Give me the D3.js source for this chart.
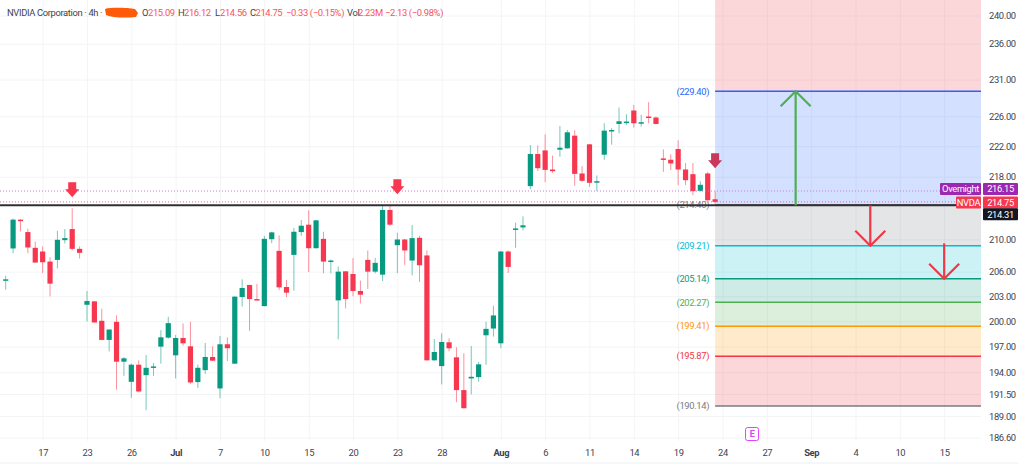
<!DOCTYPE html>
<html>
<head>
<meta charset="utf-8">
<script src="https://cdnjs.cloudflare.com/ajax/libs/d3/7.8.5/d3.min.js"></script>
<style>
	html, body { margin: 0; padding: 0; background: #fff; }
	svg { display: block; font-family: Roboto, "Liberation Sans", sans-serif; }
	svg text { letter-spacing: -0.35px; }
	.axis path, .axis line { display: none; }
	.grid path { display: none; }
	.grid line { stroke: #f3f4f6; stroke-width: 1; }
	.grid text { display: none; }
	.axis text { fill: #3f424d; font-size: 9.4px; font-family: Roboto, "Liberation Sans", sans-serif; }
</style>
</head>
<body>
<svg id="chart" width="1024" height="467"></svg>
<script>
'use strict';

// candles, 4h bars
const opens = [
	204.90, 208.87, 212.49, 210.92, 208.95, 208.49, 207.24, 207.45, 209.91, 211.30,
	208.82, 201.97, 202.38, 200.05, 197.78, 199.93, 195.23, 192.90, 194.88, 193.67,
	194.52, 196.99, 198.05, 195.97, 198.01, 197.03, 192.87, 194.25, 195.78, 192.14,
	197.27, 195.00, 202.90, 204.37, 202.66, 201.81, 210.03, 208.57, 204.12, 208.07,
	210.92, 211.85, 208.90, 210.07, 207.20, 202.50, 206.04, 205.71, 203.64, 207.45,
	206.00, 205.63, 213.72, 209.28, 209.99, 207.37, 210.20, 208.00, 195.39, 194.72,
	197.50, 195.74, 191.95, 193.29, 193.44, 198.33, 199.13, 197.38, 208.49, 211.30,
	211.51, 216.78, 220.97, 221.45, 218.94, 221.54, 221.72, 223.40, 218.42, 222.25,
	217.25, 220.88, 224.03, 224.97, 225.20, 226.78, 225.06, 225.97, 225.83, 220.39,
	220.22, 221.63, 218.94, 218.33, 216.17, 218.42, 215.09
];
const highs = [
	205.51, 212.61, 212.52, 211.34, 209.74, 209.12, 207.78, 211.09, 211.30, 213.93,
	209.12, 203.64, 202.42, 201.49, 199.05, 200.69, 195.78, 195.00, 195.39, 196.01,
	195.07, 198.93, 200.53, 198.37, 199.73, 199.93, 194.88, 197.42, 197.03, 198.25,
	198.09, 202.99, 205.06, 204.40, 204.49, 210.45, 210.96, 210.49, 204.98, 211.43,
	212.44, 213.67, 212.44, 210.96, 207.49, 206.62, 206.08, 207.66, 204.90, 208.62,
	207.70, 214.23, 214.23, 210.84, 210.07, 211.81, 210.45, 208.62, 197.89, 198.57,
	197.97, 196.91, 196.21, 197.07, 195.19, 199.93, 201.85, 208.53, 208.62, 212.11,
	212.91, 222.16, 222.11, 223.58, 220.75, 224.70, 224.16, 224.12, 219.38, 222.29,
	218.16, 225.06, 224.39, 227.18, 226.28, 227.54, 226.19, 227.91, 225.97, 221.58,
	220.92, 222.78, 219.78, 219.78, 217.42, 218.63, 216.12
];
const lows = [
	203.80, 208.28, 211.00, 208.28, 207.10, 205.84, 202.99, 206.41, 209.49, 208.62,
	207.62, 199.97, 199.83, 197.74, 196.44, 191.99, 193.59, 191.07, 191.68, 189.66,
	193.59, 195.00, 197.93, 193.29, 197.11, 192.67, 192.21, 193.82, 195.31, 191.03,
	195.31, 194.95, 201.77, 198.85, 202.50, 201.77, 209.53, 203.76, 202.90, 203.68,
	210.45, 205.96, 208.87, 205.79, 205.79, 197.85, 201.53, 202.99, 202.13, 203.88,
	205.79, 204.86, 211.72, 205.84, 206.83, 205.55, 204.74, 195.35, 195.35, 192.60,
	196.44, 190.57, 189.85, 191.45, 192.90, 194.88, 198.17, 196.80, 205.84, 208.95,
	211.13, 216.39, 218.76, 217.29, 218.50, 220.61, 221.67, 216.82, 217.34, 216.69,
	216.13, 220.22, 222.20, 223.71, 224.84, 224.48, 224.61, 225.06, 224.93, 218.63,
	218.85, 216.91, 216.91, 215.61, 216.09, 214.90, 214.56
];
const closes = [
	205.06, 212.49, 212.40, 208.99, 207.12, 207.16, 204.53, 209.95, 210.16, 208.82,
	208.32, 202.42, 199.85, 197.78, 199.01, 195.23, 195.62, 194.88, 191.79, 194.52,
	194.68, 198.09, 199.77, 198.01, 197.38, 192.83, 194.52, 195.78, 195.35, 197.27,
	196.80, 202.95, 204.00, 202.66, 202.54, 210.07, 210.88, 204.08, 203.43, 210.96,
	211.72, 208.90, 212.40, 207.24, 207.37, 206.00, 202.66, 203.64, 203.19, 206.00,
	207.08, 213.72, 211.85, 209.99, 208.62, 210.16, 206.79, 195.39, 196.36, 197.54,
	196.80, 191.95, 189.89, 193.48, 194.92, 199.09, 200.69, 208.49, 206.58, 211.38,
	211.77, 220.97, 219.11, 218.89, 218.72, 221.80, 223.85, 218.37, 217.47, 217.21,
	217.42, 224.07, 224.16, 225.33, 225.29, 225.06, 225.20, 225.83, 224.97, 220.22,
	219.73, 218.94, 217.55, 216.13, 216.95, 214.96, 214.75
];

// axes
const priceTicks = [240, 236, 231, 226, 222, 218, 210, 206, 203, 200, 197, 194, 191.5, 189, 186.6];
const timeTickBars = [5, 11, 17, 23, 29, 35, 41, 47, 53, 59, 67, 73, 79, 85, 91, 97, 103, 109, 115, 121, 127];
const timeTickLabels = ['17', '23', '26', 'Jul', '7', '10', '15', '20', '23', '28', 'Aug', '6', '11', '14', '19', '24', '27', 'Sep', '4', '10', '15'];
const boldLabels = ['Jul', 'Aug', 'Sep'];

// fib levels, top to bottom
const fibPrices = [229.40, 214.40, 209.21, 205.14, 202.27, 199.41, 195.87, 190.14];
const fibColors = ['#2962ff', '#787b86', '#00bcd4', '#089981', '#4caf50', '#ff9800', '#f23645', '#787b86'];
const fibFills = ['rgba(242,54,69,.2)', 'rgba(41,98,255,.2)', 'rgba(120,123,134,.2)', 'rgba(0,188,212,.2)',
	'rgba(8,153,129,.2)', 'rgba(76,175,80,.2)', 'rgba(255,152,0,.2)', 'rgba(242,54,69,.2)'];
const fibTop = 245;
const fibStartBar = 96;
const fibEndBar = 132;

// drawn on the chart
const supportPrice = 214.31;
const overnightPrice = 216.15;
const lastPrice = 214.75;
const blockArrowBars = [9, 53, 96];
const blockArrowPrices = [215.34, 215.73, 219.11];
const blockArrowColors = ['#f7374f', '#f7374f', '#c8385a'];
const lineArrows = [
	{ bar: 106.9, from: 214.31, to: 229.40, color: '#4caf50' },
	{ bar: 117, from: 214.31, to: 209.21, color: '#f23645' },
	{ bar: 127, from: 209.50, to: 205.14, color: '#f23645' }
];
const earningsBar = 101;

// header values
const legendText = ['NVIDIA Corporation · 4h ·'];
const legendKeys = ['O', 'H', 'L', 'C', 'Vol'];
const legendValues = ['215.09', '216.12', '214.56', '214.75', '2.23M'];
const legendKeyX = [142, 178, 215, 250, 347];
const legendValueX = [148, 184, 220, 255.5, 358];
const legendChanges = ['−0.33 (−0.15%)', '−2.13 (−0.98%)'];
const legendChangeX = [286, 385];

const paneRight = 981;
const paneBottom = 441;

const svg = d3.select('#chart');

const x = d3.scaleLinear().domain([0, 96]).range([5.7, 715.1]);
const y = d3.scaleLog().domain([240, 186.6]).range([15.5, 437.5]);

svg.append('defs').append('clipPath').attr('id', 'pane')
	.append('rect').attr('width', paneRight).attr('height', paneBottom);

/* grid */
svg.append('g').attr('class', 'grid')
	.attr('transform', `translate(${paneRight},0)`)
	.call(d3.axisLeft(y).tickValues(priceTicks).tickSize(paneRight).tickFormat(''));
svg.append('g').attr('class', 'grid')
	.attr('transform', `translate(0,${paneBottom})`)
	.call(d3.axisTop(x).tickValues(timeTickBars).tickSize(paneBottom).tickFormat(''));

const pane = svg.append('g').attr('clip-path', 'url(#pane)');

/* fib bands and levels */
const bandEdges = [fibTop].concat(fibPrices);
pane.append('g').selectAll('rect')
	.data(fibFills)
	.join('rect')
		.attr('x', x(fibStartBar))
		.attr('width', x(fibEndBar) - x(fibStartBar))
		.attr('y', (d, i) => y(bandEdges[i]))
		.attr('height', (d, i) => y(bandEdges[i + 1]) - y(bandEdges[i]))
		.attr('fill', d => d);

pane.append('g').selectAll('line')
	.data(fibPrices)
	.join('line')
		.attr('x1', x(fibStartBar))
		.attr('x2', x(fibEndBar))
		.attr('y1', d => y(d))
		.attr('y2', d => y(d))
		.attr('stroke', (d, i) => fibColors[i])
		.attr('stroke-width', 1.5);

pane.append('g').selectAll('text')
	.data(fibPrices)
	.join('text')
		.attr('x', x(fibStartBar) - 6)
		.attr('y', d => y(d))
		.attr('dy', '0.35em')
		.attr('text-anchor', 'end')
		.attr('font-size', '9.4px')
		.attr('fill', (d, i) => fibColors[i])
		.text(d => `(${d.toFixed(2)})`);

/* candles */
const candles = opens.map((o, i) => ({ i, o, h: highs[i], l: lows[i], c: closes[i] }));
const candleColor = d => d.c >= d.o ? '#089981' : '#f7374f';

pane.append('g').selectAll('line')
	.data(candles)
	.join('line')
		.attr('x1', d => x(d.i))
		.attr('x2', d => x(d.i))
		.attr('y1', d => y(d.h))
		.attr('y2', d => y(d.l))
		.attr('stroke', candleColor)
		.attr('stroke-opacity', 0.55)
		.attr('stroke-width', 1);

pane.append('g').selectAll('rect')
	.data(candles)
	.join('rect')
		.attr('x', d => x(d.i) - 2.6)
		.attr('width', 5.2)
		.attr('y', d => y(Math.max(d.o, d.c)))
		.attr('height', d => Math.max(1.5, Math.abs(y(d.o) - y(d.c))))
		.attr('fill', candleColor);

/* price lines */
pane.append('line')
	.attr('x1', 0).attr('x2', paneRight)
	.attr('y1', y(overnightPrice)).attr('y2', y(overnightPrice))
	.attr('stroke', '#c77dd6').attr('stroke-dasharray', '1,2');
pane.append('line')
	.attr('x1', 0).attr('x2', paneRight)
	.attr('y1', y(lastPrice)).attr('y2', y(lastPrice))
	.attr('stroke', '#f7697a').attr('stroke-dasharray', '1,2');
pane.append('line')
	.attr('x1', 0).attr('x2', paneRight)
	.attr('y1', y(supportPrice)).attr('y2', y(supportPrice))
	.attr('stroke', '#2f3036').attr('stroke-width', 2);

/* block arrows, tip at the given price */
const blockArrow = 'M-4,-15H4V-8H7L0,0L-7,-8H-4Z';
pane.append('g').selectAll('path')
	.data(blockArrowBars)
	.join('path')
		.attr('transform', (d, i) => `translate(${x(d)},${y(blockArrowPrices[i])})`)
		.attr('d', blockArrow)
		.attr('fill', (d, i) => blockArrowColors[i]);

/* line arrows */
const arrows = pane.append('g').selectAll('g')
	.data(lineArrows)
	.join('g')
		.attr('fill', 'none')
		.attr('stroke', d => d.color)
		.attr('stroke-width', 2.2);
arrows.append('line')
	.attr('x1', d => x(d.bar))
	.attr('x2', d => x(d.bar))
	.attr('y1', d => y(d.from))
	.attr('y2', d => y(d.to));
arrows.append('path')
	.attr('d', d => {
		let tip = y(d.to);
		let back = d.to > d.from ? 15 : -15;
		return `M${x(d.bar) - 15},${tip + back}L${x(d.bar)},${tip}L${x(d.bar) + 15},${tip + back}`;
	});

/* earnings marker */
const earnings = svg.append('g').attr('transform', `translate(${x(earningsBar)},434)`);
earnings.append('rect')
	.attr('x', -6.5).attr('y', -6.5).attr('width', 13).attr('height', 13).attr('rx', 2)
	.attr('fill', '#fff').attr('stroke', '#e040fb').attr('stroke-width', 1);
earnings.append('text')
	.attr('text-anchor', 'middle').attr('dy', '0.35em')
	.attr('font-size', '9px').attr('font-weight', 700).attr('fill', '#e040fb')
	.text('E');

/* axes */
svg.append('g').attr('class', 'axis')
	.attr('transform', 'translate(989,0)')
	.call(d3.axisRight(y).tickValues(priceTicks).tickSize(0).tickPadding(0).tickFormat(d => d.toFixed(2)));

const timeAxis = svg.append('g').attr('class', 'axis')
	.attr('transform', 'translate(0,449)')
	.call(d3.axisBottom(x).tickValues(timeTickBars).tickSize(0).tickPadding(0)
		.tickFormat((d, i) => timeTickLabels[i]));
timeAxis.selectAll('text')
	.style('font-weight', function(){ return boldLabels.includes(this.textContent) ? 700 : 400; });

svg.append('line')
	.attr('x1', 0).attr('x2', 1018).attr('y1', 463).attr('y2', 463)
	.attr('stroke', '#eceef1');

/* price labels on the right */
const tagBoxes = [
	{ label: 'Overnight', value: overnightPrice, color: '#9c27b0', labelLeft: 940, shift: -2 },
	{ label: 'NVDA', value: lastPrice, color: '#f7374f', labelLeft: 956, shift: 0.5 },
	{ label: null, value: supportPrice, color: '#131722', labelLeft: null, shift: 9 }
];
const tags = svg.append('g').selectAll('g')
	.data(tagBoxes)
	.join('g')
		.attr('transform', d => `translate(0,${y(d.value) + d.shift})`);
tags.append('rect')
	.attr('x', 983).attr('y', -6).attr('width', 35).attr('height', 12).attr('rx', 1)
	.attr('fill', d => d.color);
tags.append('text')
	.attr('x', 1000.5).attr('dy', '0.36em').attr('text-anchor', 'middle')
	.attr('font-size', '9.4px').attr('fill', '#fff')
	.text(d => d.value.toFixed(2));
const named = tags.filter(d => d.label);
named.append('rect')
	.attr('x', d => d.labelLeft).attr('y', -6)
	.attr('width', d => paneRight - d.labelLeft).attr('height', 12).attr('rx', 1)
	.attr('fill', d => d.color);
named.append('text')
	.attr('x', d => (paneRight + d.labelLeft) / 2).attr('dy', '0.36em').attr('text-anchor', 'middle')
	.attr('font-size', '9.4px').attr('fill', '#fff')
	.text(d => d.label);

/* header */
const header = svg.append('g').attr('font-size', '9.4px');
header.append('text').attr('x', 7).attr('y', 15.5).attr('fill', '#3f424d').text(legendText[0]);
header.selectAll('text.key')
	.data(legendKeys)
	.join('text').attr('class', 'key')
		.attr('x', (d, i) => legendKeyX[i]).attr('y', 15.5).attr('fill', '#3f424d').text(d => d);
header.selectAll('text.val')
	.data(legendValues)
	.join('text').attr('class', 'val')
		.attr('x', (d, i) => legendValueX[i]).attr('y', 15.5).attr('fill', '#f7525f').text(d => d);
header.selectAll('text.chg')
	.data(legendChanges)
	.join('text').attr('class', 'chg')
		.attr('x', (d, i) => legendChangeX[i]).attr('y', 15.5).attr('fill', '#f7525f').text(d => d);

// the orange scribble over the ticker
svg.append('path')
	.attr('d', 'M105,9C112,7 128,8 135,9L138,13L136,17C125,18 113,18 106,15Z')
	.attr('fill', '#ff5a0a');
</script>
</body>
</html>
